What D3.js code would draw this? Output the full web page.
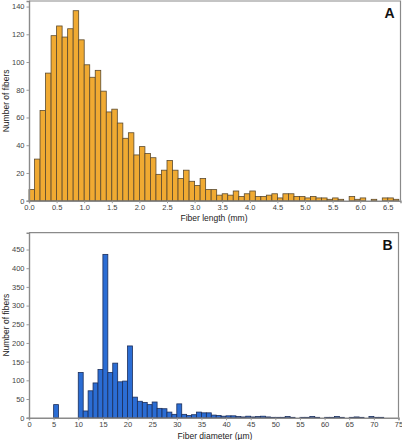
<!DOCTYPE html>
<html><head><meta charset="utf-8">
<script src="https://cdn.jsdelivr.net/npm/d3@7"></script>
<style>
html,body{margin:0;padding:0;background:#fff;}
text{font-family:"Liberation Sans",Arial,sans-serif;}
</style></head>
<body><svg id="c" width="402" height="440"></svg>
<script>
// Panel A: fiber length histogram, bins of 0.1 mm starting at 0.0
const lengthBinWidth = 0.1;
const lengthCounts = [8,30,65,92,119,126,118,124,137,116,98,89,94,79,64,66,56,45,49,33,39,34,31,19,22,29,22,16,22,14,11,16,8,8,4,5,4,7,3,5,7,3,3,4,5,2,5,5,3,3,2,3,2,2,1,2,1,0,3,1,2,0,1,0,2,2,1];
const lengthTicksX = [0,0.5,1,1.5,2,2.5,3,3.5,4,4.5,5,5.5,6,6.5];
const lengthTicksY = [0,20,40,60,80,100,120,140];

// Panel B: fiber diameter histogram, bins of 1 µm starting at 0
const diamBinWidth = 1;
const diamCounts = [0,0,0,0,0,35,0,0,0,0,121,18,72,93,129,437,121,146,96,98,192,55,44,41,35,42,25,24,15,9,37,9,6,8,15,13,13,7,6,4,5,5,3,2,4,2,3,4,2,1,1,1,3,1,0,1,1,3,1,0,1,1,3,1,0,1,2,1,0,3,1,1,0,0,0];
const diamTicksX = [0,5,10,15,20,25,30,35,40,45,50,55,60,65,70,75];
const diamTicksY = [0,50,100,150,200,250,300,350,400,450];

const svg = d3.select("#c");

function panel(cfg){
  const g = svg.append("g");
  const x = d3.scaleLinear().domain(cfg.xDomain).range([cfg.left, cfg.right]);
  const y = d3.scaleLinear().domain(cfg.yDomain).range([cfg.bottom, cfg.top]);
  const data = cfg.counts.map((c,i)=>({x0:i*cfg.bw, x1:(i+1)*cfg.bw, c}));
  g.selectAll("rect.bar").data(data.filter(d=>d.c>0)).join("rect")
    .attr("class","bar")
    .attr("x", d=>x(d.x0)).attr("width", d=>x(d.x1)-x(d.x0))
    .attr("y", d=>y(d.c)).attr("height", d=>y(0)-y(d.c))
    .attr("fill", cfg.fill).attr("stroke", cfg.stroke).attr("stroke-width",0.8);
  // frame (top & right)
  g.append("path")
    .attr("d", `M${cfg.left},${cfg.top}H${cfg.right}V${cfg.bottom}`)
    .attr("fill","none").attr("stroke","#8a8a8a").attr("stroke-width",1.2);
  const xa = g.append("g").attr("transform",`translate(0,${cfg.bottom})`)
    .call(d3.axisBottom(x).tickValues(cfg.xTicks).tickFormat(cfg.xFmt).tickSize(2.5).tickPadding(1.5));
  const ya = g.append("g").attr("transform",`translate(${cfg.left},0)`)
    .call(d3.axisLeft(y).tickValues(cfg.yTicks).tickFormat(d3.format("d")).tickSize(2.5).tickPadding(2));
  [xa,ya].forEach(a=>{
    a.select(".domain").attr("stroke","#8a8a8a").attr("stroke-width",1.4);
    a.selectAll(".tick line").attr("stroke","#999");
    a.selectAll(".tick text").attr("fill","#444").style("font-size","7.5px").style("font-family","'Liberation Sans',Arial,sans-serif");
  });
  g.append("text").attr("x", cfg.xLabelX).attr("y", cfg.xLabelY).attr("text-anchor","middle")
    .attr("fill","#222").style("font-size","8.5px").text(cfg.xLabel);
  g.append("text").attr("transform",`translate(9,${(cfg.top+cfg.bottom)/2}) rotate(-90)`)
    .attr("text-anchor","middle").attr("fill","#222").style("font-size","8.5px").text("Number of fibers");
  g.append("text").attr("x", cfg.right-6).attr("y", cfg.top+17).attr("text-anchor","end")
    .attr("fill","#111").style("font-size","14px").style("font-weight","bold").text(cfg.tag);
}

panel({xDomain:[0,6.73], yDomain:[0,144], left:29, right:400.5, top:1, bottom:200.7,
  counts:lengthCounts, bw:lengthBinWidth, xTicks:lengthTicksX, yTicks:lengthTicksY,
  xFmt:d3.format(".1f"), fill:"#f0aa32", stroke:"#5b4a2e",
  xLabel:"Fiber length (mm)", xLabelX:214, xLabelY:221, tag:"A"});

panel({xDomain:[0,75], yDomain:[0,495], left:29, right:398.5, top:232.7, bottom:417.7,
  counts:diamCounts, bw:diamBinWidth, xTicks:diamTicksX, yTicks:diamTicksY,
  xFmt:d3.format("d"), fill:"#2b6dd4", stroke:"#1c2e5a",
  xLabel:"Fiber diameter (µm)", xLabelX:215, xLabelY:439, tag:"B"});
</script></body></html>
